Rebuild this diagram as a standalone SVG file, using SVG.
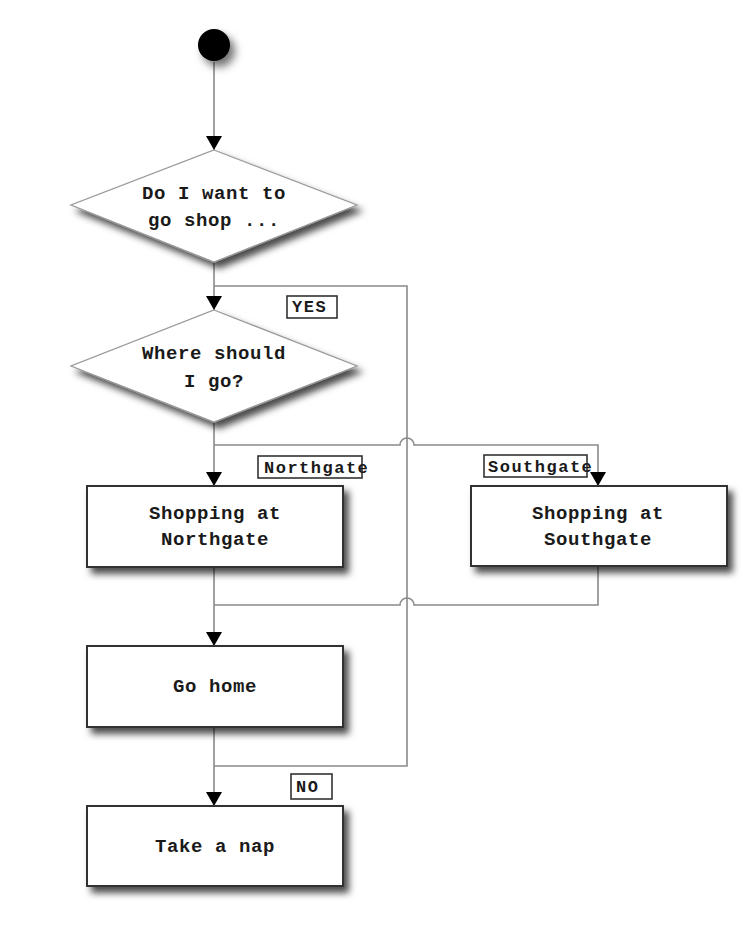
<svg xmlns="http://www.w3.org/2000/svg" width="749" height="929" viewBox="0 0 749 929">
<defs>
<filter id="sh" x="-20%" y="-20%" width="150%" height="160%">
<feDropShadow dx="5" dy="6" stdDeviation="3.5" flood-color="#000" flood-opacity="0.7"/>
</filter>
<filter id="shc" x="-50%" y="-50%" width="220%" height="220%">
<feDropShadow dx="5" dy="6" stdDeviation="4" flood-color="#000" flood-opacity="0.55"/>
</filter>
<marker id="arr" viewBox="0 0 14 16" refX="14" refY="8" markerWidth="14" markerHeight="16" markerUnits="userSpaceOnUse" orient="auto">
<path d="M0,0 L14,8 L0,16 Z" fill="#000"/>
</marker>
<style>
.conn{fill:none;stroke:#8a8a8a;stroke-width:1.6}
.box{fill:#fff;stroke:#333;stroke-width:2;filter:url(#sh)}
.dia{fill:#fff;stroke:#999;stroke-width:1.3;filter:url(#sh)}
.t{font-family:"Liberation Mono","DejaVu Sans Mono",monospace;font-weight:bold;font-size:19px;letter-spacing:0.6px;fill:#1a1a1a;text-anchor:middle}
.lb{fill:#fff;stroke:#333;stroke-width:1.6}
.lt{font-family:"Liberation Mono","DejaVu Sans Mono",monospace;font-weight:bold;font-size:17px;letter-spacing:1.5px;fill:#1a1a1a}
</style>
</defs>
<rect width="749" height="929" fill="#fff"/>
<g id="connectors">
<path class="conn" d="M214,62 V150" marker-end="url(#arr)"/>
<path class="conn" d="M214,262 V310" marker-end="url(#arr)"/>
<path class="conn" d="M214,286 H407 V766 H214"/>
<path class="conn" d="M214,766 V806" marker-end="url(#arr)"/>
<path class="conn" d="M214,421 V486" marker-end="url(#arr)"/>
<path class="conn" d="M214,445 H400 A7,7 0 0 1 414,445 H598 V486" marker-end="url(#arr)"/>
<path class="conn" d="M214,567 V646" marker-end="url(#arr)"/>
<path class="conn" d="M598,566 V605 H414 A7,7 0 0 0 400,605 H214"/>
<path class="conn" d="M214,727 V766"/>
<g id="label-yes"><rect class="lb" x="287" y="296" width="50" height="22"/><text class="lt" x="292" y="312">YES</text></g>
<g id="label-northgate"><rect class="lb" x="258" y="456" width="104" height="22"/><text class="lt" x="264" y="473">Northgate</text></g>
<g id="label-southgate"><rect class="lb" x="484" y="455" width="103" height="22"/><text class="lt" x="488" y="472">Southgate</text></g>
<g id="label-no"><rect class="lb" x="291" y="774" width="41" height="25"/><text class="lt" x="296" y="792">NO</text></g>
</g>
<g id="start"><circle cx="214" cy="45" r="16" fill="#000" filter="url(#shc)"/></g>
<g id="decision-shop">
<polygon class="dia" points="214,150 357,205 214,262 71,205"/>
<text class="t" x="214" y="199">Do I want to</text>
<text class="t" x="214" y="226">go shop ...</text>
</g>
<g id="decision-where">
<polygon class="dia" points="214,310 357,366 214,422 71,366"/>
<text class="t" x="214" y="359">Where should</text>
<text class="t" x="214" y="387">I go?</text>
</g>
<g id="northgate">
<rect class="box" x="87" y="486" width="256" height="81"/>
<text class="t" x="215" y="519">Shopping at</text>
<text class="t" x="215" y="545">Northgate</text>
</g>
<g id="southgate">
<rect class="box" x="471" y="486" width="256" height="80"/>
<text class="t" x="598" y="519">Shopping at</text>
<text class="t" x="598" y="545">Southgate</text>
</g>
<g id="go-home">
<rect class="box" x="87" y="646" width="256" height="81"/>
<text class="t" x="215" y="692">Go home</text>
</g>
<g id="nap">
<rect class="box" x="87" y="806" width="256" height="80"/>
<text class="t" x="215" y="852">Take a nap</text>
</g>
</svg>
